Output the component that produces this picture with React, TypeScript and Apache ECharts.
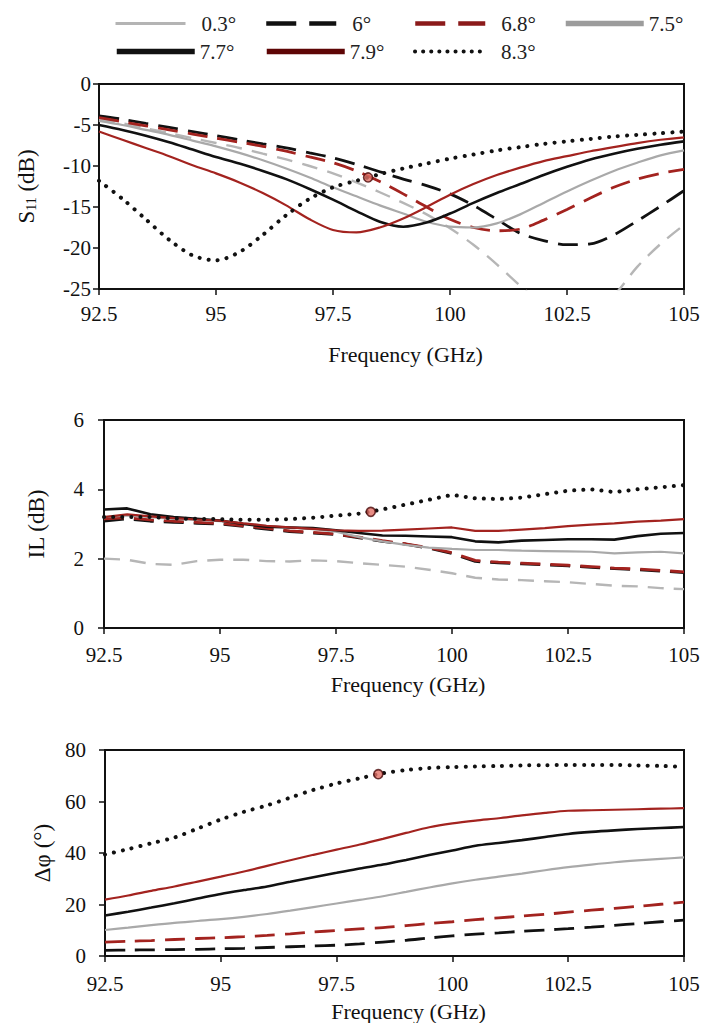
import React, { useEffect, useRef } from 'react';
import * as echarts from 'echarts';

// ---------- data ----------
const freq = [92.5, 93, 93.5, 94, 94.5, 95, 95.5, 96, 96.5, 97, 97.5, 98, 98.5, 99, 99.5, 100, 100.5, 101, 101.5, 102, 102.5, 103, 103.5, 104, 104.5, 105];
const xTicks = [92.5, 95, 97.5, 100, 102.5, 105];
const angleNames = ['0.3°', '6°', '6.8°', '7.5°', '7.7°', '7.9°', '8.3°'];

// S11 (dB)
const s11_03 = [-4.3, -4.8, -5.4, -6.0, -6.6, -7.2, -7.8, -8.5, -9.2, -10.0, -10.9, -12.0, -13.2, -14.5, -15.9, -17.6, -19.6, -22.0, -24.6, -27.0, -28.5, -28.0, -25.8, -22.3, -19.5, -17.2];
const s11_60 = [-3.9, -4.3, -4.8, -5.3, -5.8, -6.3, -6.8, -7.3, -7.8, -8.4, -9.0, -9.8, -10.7, -11.6, -12.4, -13.4, -14.8, -16.5, -18.2, -19.1, -19.6, -19.5, -18.4, -16.7, -14.9, -13.0];
const s11_68 = [-4.1, -4.6, -5.1, -5.6, -6.1, -6.6, -7.1, -7.6, -8.2, -8.9, -9.6, -10.6, -11.9, -13.4, -15.0, -16.5, -17.5, -17.9, -17.7, -16.6, -15.3, -13.9, -12.6, -11.6, -10.9, -10.4];
const s11_75 = [-4.5, -5.0, -5.6, -6.2, -6.9, -7.6, -8.4, -9.3, -10.3, -11.4, -12.6, -13.7, -14.8, -15.8, -16.8, -17.4, -17.5, -17.0, -15.9, -14.5, -13.1, -11.8, -10.6, -9.6, -8.7, -8.1];
const s11_77 = [-5.0, -5.6, -6.3, -7.1, -8.0, -8.9, -9.7, -10.6, -11.6, -12.8, -14.1, -15.5, -16.8, -17.4, -16.9, -15.8, -14.5, -13.3, -12.2, -11.1, -10.1, -9.2, -8.5, -7.9, -7.4, -7.0];
const s11_79 = [-5.8, -6.8, -7.8, -8.8, -9.9, -10.9, -12.0, -13.3, -14.8, -16.5, -17.8, -18.1, -17.5, -16.4, -15.0, -13.5, -12.2, -11.1, -10.2, -9.4, -8.8, -8.2, -7.7, -7.2, -6.8, -6.5];
const s11_83 = [-11.8, -14.0, -16.5, -19.0, -20.9, -21.5, -20.5, -18.4, -16.0, -14.0, -12.6, -11.8, -11.0, -10.3, -9.7, -9.1, -8.6, -8.1, -7.7, -7.3, -7.0, -6.7, -6.4, -6.2, -6.0, -5.8];

// IL (dB)
const il_03 = [2.0, 1.97, 1.85, 1.82, 1.93, 1.97, 1.97, 1.93, 1.92, 1.95, 1.93, 1.87, 1.82, 1.77, 1.68, 1.58, 1.45, 1.4, 1.38, 1.35, 1.32, 1.27, 1.22, 1.2, 1.15, 1.12];
const il_60 = [3.08, 3.15, 3.08, 3.05, 3.02, 3.0, 2.93, 2.85, 2.78, 2.74, 2.7, 2.6, 2.5, 2.42, 2.3, 2.15, 1.92, 1.88, 1.85, 1.82, 1.79, 1.75, 1.71, 1.68, 1.64, 1.6];
const il_68 = [3.15, 3.18, 3.12, 3.08, 3.05, 3.02, 2.95, 2.88, 2.8, 2.76, 2.71, 2.62, 2.52, 2.43, 2.32, 2.17, 1.95, 1.9, 1.87, 1.84, 1.81, 1.77, 1.73, 1.7, 1.66, 1.62];
const il_75 = [3.2, 3.25, 3.2, 3.15, 3.12, 3.08, 3.02, 2.95, 2.9, 2.85, 2.78, 2.62, 2.5, 2.4, 2.32, 2.28, 2.25, 2.25, 2.23, 2.22, 2.21, 2.2, 2.15, 2.18, 2.2, 2.15];
const il_77 = [3.42, 3.45, 3.28, 3.2, 3.15, 3.1, 3.0, 2.92, 2.9, 2.88, 2.82, 2.74, 2.67, 2.66, 2.64, 2.62, 2.5, 2.47, 2.52, 2.54, 2.56, 2.56, 2.55, 2.65, 2.72, 2.74];
const il_79 = [3.2, 3.28, 3.22, 3.17, 3.13, 3.1, 3.02, 2.95, 2.9, 2.86, 2.82, 2.8, 2.81, 2.84, 2.87, 2.9, 2.8, 2.8, 2.84, 2.88, 2.94, 2.98, 3.02, 3.07, 3.1, 3.14];
const il_83 = [3.2, 3.2, 3.2, 3.16, 3.15, 3.14, 3.12, 3.12, 3.14, 3.18, 3.24, 3.3, 3.42, 3.56, 3.7, 3.84, 3.74, 3.72, 3.76, 3.86, 3.96, 4.0, 3.92, 4.0, 4.06, 4.12];

// Delta phi (deg)
const dp_60 = [2.2, 2.3, 2.4, 2.5, 2.6, 2.8, 3.0, 3.3, 3.6, 3.9, 4.2, 4.7, 5.4, 6.1, 7.0, 7.8, 8.5, 9.0, 9.6, 10.1, 10.6, 11.2, 11.9, 12.6, 13.3, 13.9];
const dp_68 = [5.4, 5.7, 6.0, 6.4, 6.8, 7.1, 7.5, 8.0, 8.6, 9.3, 9.9, 10.5, 11.0, 11.8, 12.6, 13.3, 14.1, 14.8, 15.5, 16.2, 17.0, 17.8, 18.5, 19.3, 20.1, 20.9];
const dp_75 = [10.1, 11.0, 12.0, 12.9, 13.6, 14.3, 15.2, 16.3, 17.6, 19.0, 20.4, 21.8, 23.2, 24.9, 26.6, 28.2, 29.6, 30.8, 32.0, 33.3, 34.5, 35.5, 36.4, 37.1, 37.7, 38.3];
const dp_77 = [15.7, 17.2, 18.8, 20.5, 22.3, 24.1, 25.6, 27.0, 28.8, 30.6, 32.3, 34.0, 35.5, 37.3, 39.2, 41.0, 42.8, 43.9, 45.0, 46.2, 47.4, 48.2, 48.8, 49.3, 49.7, 50.1];
const dp_79 = [21.9, 23.5, 25.3, 27.0, 28.9, 30.8, 32.8, 35.0, 37.2, 39.3, 41.3, 43.3, 45.5, 47.8, 50.0, 51.5, 52.6, 53.5, 54.6, 55.6, 56.4, 56.6, 56.8, 57.0, 57.2, 57.4];
const dp_83 = [39.4, 41.5, 43.8, 46.0, 49.5, 53.0, 56.0, 58.5, 61.5, 64.5, 67.0, 69.0, 71.0, 72.2, 73.0, 73.4, 73.6, 73.8, 74.0, 74.1, 74.2, 74.2, 74.2, 74.0, 73.8, 73.5];

// cursor markers [freq, value]
const markerS11 = [98.25, -11.4];
const markerIL = [98.25, 3.35];
const markerDP = [98.4, 70.6];

// ---------- styles ----------
const FONT = 'Liberation Serif';
const RED = '#a3231f';

const plotStyle: Record<string, any> = {
  '0.3°': { color: '#b6b6b6', type: [16, 10], width: 2.4 },
  '6°': { color: '#111', type: [20, 10], width: 2.8 },
  '6.8°': { color: RED, type: [20, 10], width: 2.8 },
  '7.5°': { color: '#a9a9a9', type: 'solid', width: 2.2 },
  '7.7°': { color: '#111', type: 'solid', width: 2.6 },
  '7.9°': { color: RED, type: 'solid', width: 2.2 },
  '8.3°': { color: '#111', type: [0.1, 9], width: 4, cap: 'round' },
};

const legendStyle: Record<string, any> = {
  '0.3°': { color: '#b4b4b4', type: 'solid', width: 3, w: 70, pad: 11, left: 114, top: 13 },
  '6°': { color: '#111', type: [30, 13], width: 4.5, w: 70, pad: 11, left: 264, top: 13 },
  '6.8°': { color: '#8b1a1a', type: [30, 13], width: 4.5, w: 70, pad: 11, left: 413, top: 13 },
  '7.5°': { color: '#9c9c9c', type: 'solid', width: 5.5, w: 78, pad: 0, left: 563, top: 13 },
  '7.7°': { color: '#111', type: 'solid', width: 5.5, w: 78, pad: 0, left: 114, top: 41 },
  '7.9°': { color: '#5e0505', type: 'solid', width: 5.5, w: 78, pad: 0, left: 264, top: 41 },
  '8.3°': { color: '#111', type: [0.1, 8], width: 4, cap: 'round', w: 70, pad: 11, left: 413, top: 41 },
};

const grids = [
  { left: 99, top: 84, width: 585, height: 205 },
  { left: 104, top: 420, width: 580, height: 208 },
  { left: 105, top: 750, width: 579, height: 207 },
];

function makeXAxis(gridIndex: number, labelMargin: number, nameGap: number) {
  return {
    type: 'value',
    gridIndex,
    min: 92.5,
    max: 105,
    interval: 2.5,
    name: 'Frequency (GHz)',
    nameLocation: 'middle',
    nameGap,
    nameTextStyle: { fontFamily: FONT, fontSize: 22, color: '#111', padding: [0, 0, 0, 28] },
    axisLine: { show: true, onZero: false, lineStyle: { color: '#111', width: 2 } },
    axisTick: { show: true, inside: false, length: 6, lineStyle: { color: '#111', width: 1.5 } },
    axisLabel: {
      fontFamily: FONT, fontSize: 21, color: '#111', margin: labelMargin,
      showMinLabel: true, showMaxLabel: true,
      formatter: (v: number) => (xTicks.indexOf(v) >= 0 ? String(v) : ''),
    },
    splitLine: { show: false },
  };
}

function makeYAxis(gridIndex: number, min: number, max: number, interval: number, name: string, nameGap: number, labelMargin: number) {
  return {
    type: 'value',
    gridIndex,
    min,
    max,
    interval,
    name,
    nameLocation: 'middle',
    nameGap,
    nameRotate: 90,
    nameTextStyle: {
      fontFamily: FONT, fontSize: 23, color: '#111',
      rich: {
        sub: { fontFamily: FONT, fontSize: 14, color: '#111', verticalAlign: 'bottom', padding: [9, 0, 0, 0] },
      },
    },
    axisLine: { show: true, onZero: false, lineStyle: { color: '#111', width: 2 } },
    axisTick: { show: true, inside: false, length: 6, lineStyle: { color: '#111', width: 1.5 } },
    axisLabel: { fontFamily: FONT, fontSize: 21, color: '#111', margin: labelMargin, showMinLabel: true, showMaxLabel: true },
    splitLine: { show: false },
  };
}

function lineSeries(name: string, values: number[], idx: number, smooth: boolean) {
  const st = plotStyle[name];
  return {
    type: 'line',
    name,
    xAxisIndex: idx,
    yAxisIndex: idx,
    data: freq.map((f, i) => [f, values[i]]),
    symbol: 'none',
    smooth: smooth ? 0.3 : false,
    clip: true,
    lineStyle: { color: st.color, type: st.type, width: st.width, cap: st.cap || 'butt' },
    itemStyle: { color: st.color },
    emphasis: { disabled: true },
  };
}

function markerSeries(pt: number[], idx: number) {
  return {
    type: 'scatter',
    name: 'cursor',
    xAxisIndex: idx,
    yAxisIndex: idx,
    data: [pt],
    symbol: 'circle',
    symbolSize: 9,
    z: 5,
    itemStyle: { color: '#e27066', borderColor: '#4a0a0a', borderWidth: 1.6 },
  };
}

export default function App() {
  const ref = useRef<HTMLDivElement>(null);

  useEffect(() => {
    if (!ref.current) return;
    const chart = echarts.init(ref.current, null, { renderer: 'svg' });

    const legends = angleNames.map((n) => {
      const ls = legendStyle[n];
      return {
        show: true,
        data: [{ name: n }],
        left: ls.left,
        top: ls.top,
        padding: 0,
        itemWidth: ls.w,
        itemHeight: 20,
        selectedMode: false,
        itemStyle: { opacity: 0 },
        lineStyle: { color: ls.color, type: ls.type, width: ls.width, cap: ls.cap || 'butt' },
        textStyle: { fontFamily: FONT, fontSize: 21, color: '#222', padding: [0, 0, 0, ls.pad] },
      };
    });

    const s11 = [s11_03, s11_60, s11_68, s11_75, s11_77, s11_79, s11_83];
    const il = [il_03, il_60, il_68, il_75, il_77, il_79, il_83];
    const dp: (number[] | null)[] = [null, dp_60, dp_68, dp_75, dp_77, dp_79, dp_83];

    const series: any[] = [];
    angleNames.forEach((n, i) => series.push(lineSeries(n, s11[i], 0, true)));
    angleNames.forEach((n, i) => series.push(lineSeries(n, il[i], 1, false)));
    angleNames.forEach((n, i) => {
      const d = dp[i];
      if (d) series.push(lineSeries(n, d, 2, true));
    });
    series.push(markerSeries(markerS11, 0));
    series.push(markerSeries(markerIL, 1));
    series.push(markerSeries(markerDP, 2));

    chart.setOption({
      animation: false,
      backgroundColor: '#ffffff',
      legend: legends,
      grid: grids.map((g) => ({ ...g, show: true, borderColor: '#111', borderWidth: 2, backgroundColor: 'transparent' })),
      xAxis: [makeXAxis(0, 14, 54), makeXAxis(1, 16, 45), makeXAxis(2, 17, 44)],
      yAxis: [
        makeYAxis(0, -25, 0, 5, 'S{sub|11} (dB)', 61, 8),
        makeYAxis(1, 0, 6, 2, 'IL (dB)', 56, 20),
        makeYAxis(2, 0, 80, 20, 'Δφ (°)', 51, 19),
      ],
      series,
    });

    return () => {
      chart.dispose();
    };
  }, []);

  return (
    <div
      ref={ref}
      style={{ position: 'absolute', left: 0, top: 0, width: 704, height: 1023, background: '#fff' }}
    />
  );
}
